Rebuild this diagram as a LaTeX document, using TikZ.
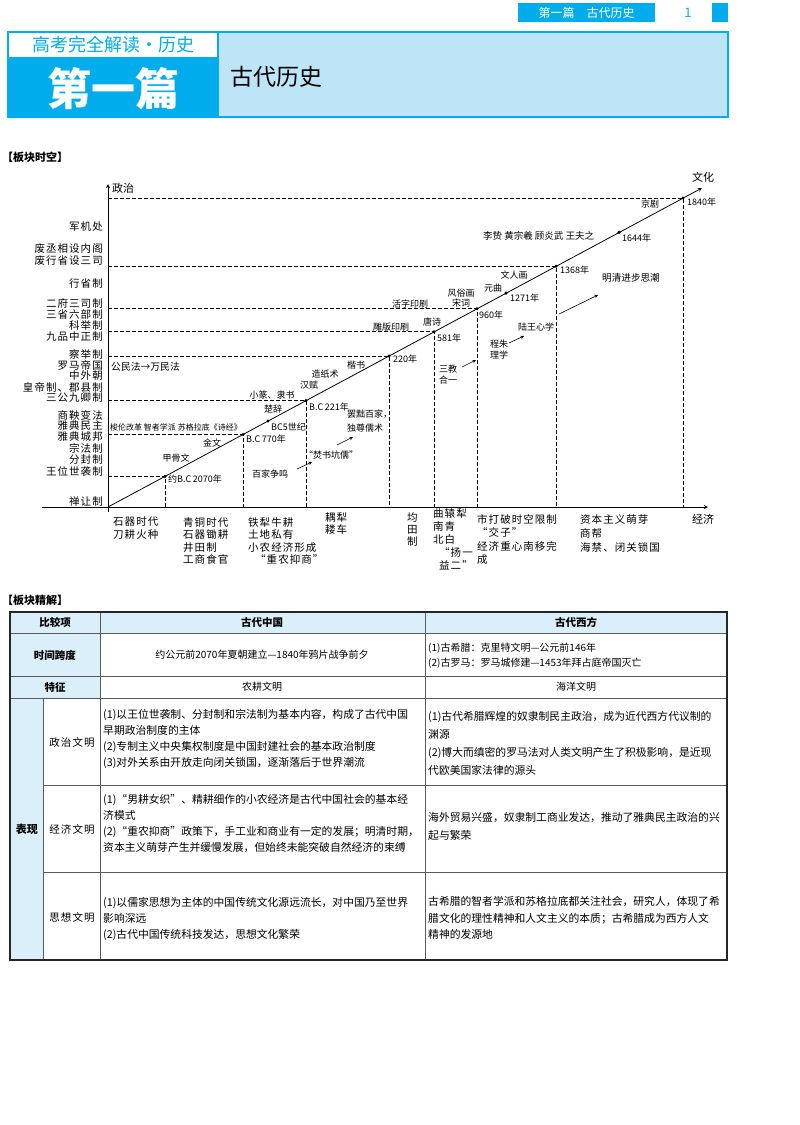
\documentclass[tikz,border=0pt]{standalone}
\usepackage{fontspec}
\setmainfont{Noto Sans CJK SC}
\newfontfamily\spaced[LetterSpace=10]{Noto Sans CJK SC}
\usepackage{xcolor}
\usetikzlibrary{arrows.meta,positioning,calc}
\definecolor{hdrblue}{RGB}{0,172,236}
\definecolor{hdrlight}{RGB}{190,228,248}
\definecolor{tabblue}{RGB}{218,239,250}
\definecolor{rulegray}{RGB}{90,90,90}

\begin{document}
\begin{tikzpicture}[x=1pt,y=-1pt,>=stealth,
  dot/.style={circle,fill=black,inner sep=1.2pt},
  guide/.style={dash pattern=on 4pt off 2pt,line width=0.7pt},
  evt/.style={font=\fontsize{9}{10}\selectfont,inner sep=0pt},
  polit/.style={font=\spaced\fontsize{10.5}{11}\selectfont,inner sep=0pt,anchor=east},
  econ/.style={font=\spaced\fontsize{10.5}{12.5}\selectfont,inner sep=0pt,anchor=north west,align=left},
  cell/.style={font=\fontsize{10.8}{16}\selectfont,inner sep=0pt,anchor=north west,align=left},
  head/.style={font=\bfseries\fontsize{10.5}{12}\selectfont,inner sep=0pt},
  flow/.style={->,line width=0.6pt}]
  \useasboundingbox (0,0) rectangle (800,1125);

  % page head
  \fill[hdrblue] (518,3) rectangle (655,22);
  \node[font=\fontsize{12}{13}\selectfont,text=white,inner sep=0pt] (runhead) at (586.5,12.5) {第一篇\quad 古代历史};
  \node[font=\fontsize{13}{14}\selectfont,text=hdrblue,inner sep=0pt] (pageno) at (688,12.5) {1};
  \fill[hdrblue] (712,3) rectangle (728,22);

  \fill[hdrlight] (218,32) rectangle (728,117);
  \fill[hdrblue] (8,57) rectangle (218,117);
  \draw[hdrblue,line width=1.2pt] (8,32) rectangle (728,117);
  \draw[hdrblue,line width=1.2pt] (218,32) -- (218,117);
  \node[font=\fontsize{18}{19}\selectfont,text=hdrblue,inner sep=0pt] (series) at (113,45) {高考完全解读·历史};
  \node[font=\bfseries\fontsize{44}{46}\selectfont,text=white,inner sep=0pt] (part) at (113,89) {第一篇};
  \node[font=\fontsize{23}{24}\selectfont,anchor=west,inner sep=0pt] (parttitle) at (230,77) {古代历史};

  \node[font=\bfseries\fontsize{11}{12}\selectfont,anchor=west,inner sep=0pt] (sec1) at (2,157) {【板块时空】};

  % axes
  \coordinate (O) at (108,507);
  \coordinate (tip) at (702,188);
  \coordinate (xstart) at (42,507);
  \coordinate (xend) at (708,507);
  \coordinate (ystart) at (108,512);
  \coordinate (yend) at (108,184);
  \draw[->,line width=0.9pt] (xstart) -- (xend);
  \draw[->,line width=0.9pt] (ystart) -- (yend);
  \node[font=\fontsize{11}{12}\selectfont,anchor=west,inner sep=0pt] (zz) at (112,188) {政治};
  \node[font=\fontsize{11}{12}\selectfont,anchor=west,inner sep=0pt] (jjax) at (692,519) {经济};
  \node[font=\fontsize{11}{12}\selectfont,anchor=west,inner sep=0pt] (wh) at (692,177) {文化};

  % dots on the time line
  \foreach \nm/\xx/\yy in {d1/165/476.4, d2/243/434.5, d3/268/421, d4/306/400.6,
      d5/389/356, d6/434/331.8, d7/477/308.7, d8/506/293.1, d9/556/266.2,
      d10/619/232.4, d11/683/198}
    \coordinate (\nm) at (\xx,\yy);
  \foreach \nm in {d1,d2,d4,d5,d6,d7,d9,d11}
    \draw[guide] (O |- \nm) -- (\nm) -- (O -| \nm);
  \draw[->,line width=0.8pt] (O) -- (tip);
  \foreach \nm in {d1,d2,d3,d4,d5,d6,d7,d8,d9,d10,d11}
    \node[dot] (p\nm) at (\nm) {};

  % political labels
  \foreach \yy/\txt [count=\i] in {227/军机处, 248/废丞相设内阁, 261/废行省设三司, 284/行省制,
      303/二府三司制, 314/三省六部制, 325/科举制, 337/九品中正制, 354/察举制, 365/罗马帝国,
      376/中外朝, 387/皇帝制、郡县制, 398/三公九卿制, 415/商鞅变法, 426/雅典民主,
      437/雅典城邦, 448/宗法制, 460/分封制, 471/王位世袭制, 502/禅让制}
    \node[polit] (pl\i) at (103,\yy) {\txt};

  % economic labels
  \node[econ] (e1) at (113,517) {石器时代\\刀耕火种};
  \node[econ] (e2) at (183,517) {青铜时代\\石器锄耕\\井田制\\工商食官};
  \node[econ] (e3) at (248,517) {铁犁牛耕\\土地私有\\小农经济形成\\\hspace{7pt}“重农抑商”};
  \node[econ] (e4) at (325,512) {耦犁\\耧车};
  \node[econ,font=\spaced\fontsize{10.5}{12}\selectfont] (e5) at (407,512) {均\\田\\制};
  \node[econ,font=\spaced\fontsize{10.5}{13}\selectfont] (e6) at (433,508) {曲辕犁\\南青\\北白\\\hspace{6pt}“扬一\\\hspace{6pt}益二”};
  \node[econ,font=\spaced\fontsize{10.5}{13.5}\selectfont] (e7) at (477,514) {市打破时空限制\\“交子”\\经济重心南移完\\成};
  \node[econ,font=\spaced\fontsize{10.5}{14}\selectfont] (e8) at (580,514) {资本主义萌芽\\商帮\\海禁、闭关锁国};

  % cultural labels
  \node[evt,font=\fontsize{9.8}{11}\selectfont,anchor=west] (gmf) at (111,367) {公民法→万民法};
  \node[evt,font=\fontsize{8}{9}\selectfont,anchor=west] (slgg) at (110,427) {梭伦改革 智者学派 苏格拉底《诗经》};
  \node[evt] (jgw) at (176,458) {甲骨文};
  \node[evt] (jw) at (212,443) {金文};
  \node[evt,anchor=west] (t2070) at (168,479) {约B.C\,2070年};
  \node[evt,anchor=west] (t770) at (246,439) {B.C\,770年};
  \node[evt,anchor=west] (t5c) at (271,427) {BC5世纪};
  \node[evt] (cc) at (273,409) {楚辞};
  \node[evt] (xz) at (272,395) {小篆、隶书};
  \node[evt] (hf) at (309,385) {汉赋};
  \node[evt,anchor=west] (t221) at (309,407) {B.C\,221年};
  \node[evt] (zzs) at (325,374) {造纸术};
  \node[evt] (ks) at (356,365) {楷书};
  \node[evt,anchor=west] (t220) at (393,359) {220年};
  \node[evt,anchor=west,align=left,font=\fontsize{9}{14}\selectfont] (bc) at (347,421) {罢黜百家，\\独尊儒术};
  \node[evt] (fs) at (331,455) {“焚书坑儒”};
  \node[evt] (bj) at (270,474) {百家争鸣};
  \node[evt] (db) at (391,327) {雕版印刷};
  \node[evt] (ts) at (432,322) {唐诗};
  \node[evt,anchor=west] (t581) at (437,338) {581年};
  \node[evt] (hz) at (410,304) {活字印刷};
  \node[evt,align=center,font=\fontsize{9}{10.5}\selectfont] (fsh) at (461,298) {风俗画\\宋词};
  \node[evt,anchor=west] (t960) at (479,315) {960年};
  \node[evt] (yq) at (493,288) {元曲};
  \node[evt,anchor=west] (t1271) at (510,298) {1271年};
  \node[evt] (wrh) at (514,275) {文人画};
  \node[evt,anchor=west] (t1368) at (560,270) {1368年};
  \node[evt,anchor=west,font=\fontsize{9.5}{10}\selectfont] (lz) at (483,236) {李贽 黄宗羲 顾炎武 王夫之};
  \node[evt,anchor=west] (t1644) at (622,238) {1644年};
  \node[evt] (jju) at (650,204) {京剧};
  \node[evt,anchor=west] (t1840) at (687,202) {1840年};
  \node[evt,font=\fontsize{9.6}{10}\selectfont] (mq) at (631,278) {明清进步思潮};
  \node[evt] (lw) at (536,327) {陆王心学};
  \node[evt,align=center,font=\fontsize{9}{11}\selectfont] (cz) at (499,350) {程朱\\理学};
  \node[evt,align=center,font=\fontsize{9}{11}\selectfont] (sj) at (448,375) {三教\\合一};

  \coordinate (f1a) at (297,469); \coordinate (f1b) at (312,462);
  \coordinate (f2a) at (337,445); \coordinate (f2b) at (353,437);
  \coordinate (f3a) at (462,367); \coordinate (f3b) at (476,360);
  \coordinate (f4a) at (509,343); \coordinate (f4b) at (524,336);
  \coordinate (f5a) at (559,314); \coordinate (f5b) at (598,295);
  \foreach \k in {1,...,5}
    \draw[flow] (f\k a) -- (f\k b);

  % table
  \node[font=\bfseries\fontsize{11}{12}\selectfont,anchor=west,inner sep=0pt] (sec2) at (2,600) {【板块精解】};
  \fill[tabblue] (10,612) rectangle (727,633);
  \fill[tabblue] (10,633) rectangle (100,698);
  \fill[tabblue] (10,698) rectangle (43,960);
  \draw[rulegray,line width=0.6pt] (10,633) -- (727,633) (10,676) -- (727,676)
    (10,698) -- (727,698) (43,785) -- (727,785) (43,872) -- (727,872)
    (100,612) -- (100,960) (425,612) -- (425,960) (43,698) -- (43,960);
  \draw[black!85,line width=1.1pt] (10,612) rectangle (727,960);

  \node[head] (hcmp) at (55,622.5) {比较项};
  \node[head] (hcn) at (262,622.5) {古代中国};
  \node[head] (hwest) at (576,622.5) {古代西方};
  \node[head] (hspan) at (55,655) {时间跨度};
  \node[head] (hfeat) at (55,687) {特征};
  \node[head,font=\bfseries\fontsize{11}{12}\selectfont] (hshow) at (27,829) {表现};
  \node[inner sep=0pt,font=\spaced\fontsize{10.5}{12}\selectfont] (spz) at (72,742) {政治文明};
  \node[inner sep=0pt,font=\spaced\fontsize{10.5}{12}\selectfont] (sjj) at (72,829) {经济文明};
  \node[inner sep=0pt,font=\spaced\fontsize{10.5}{12}\selectfont] (ssx) at (72,917) {思想文明};

  \node[inner sep=0pt,font=\fontsize{10}{12}\selectfont] (spancn) at (262,655) {约公元前2070年夏朝建立—1840年鸦片战争前夕};
  \node[inner sep=0pt,font=\fontsize{10}{15}\selectfont,anchor=west,align=left] (spanw) at (428,655.5) {(1)古希腊：克里特文明—公元前146年\\(2)古罗马：罗马城修建—1453年拜占庭帝国灭亡};
  \node[inner sep=0pt,font=\fontsize{10}{12}\selectfont] (featcn) at (262,687) {农耕文明};
  \node[inner sep=0pt,font=\fontsize{10}{12}\selectfont] (featw) at (576,687) {海洋文明};

  \node[cell] (cpz) at (103,709.5) {(1)以王位世袭制、分封制和宗法制为基本内容，构成了古代中国\\早期政治制度的主体\\(2)专制主义中央集权制度是中国封建社会的基本政治制度\\(3)对外关系由开放走向闭关锁国，逐渐落后于世界潮流};
  \node[cell] (cjj) at (103,794.5) {(1)“男耕女织”、精耕细作的小农经济是古代中国社会的基本经\\济模式\\(2)“重农抑商”政策下，手工业和商业有一定的发展；明清时期，\\资本主义萌芽产生并缓慢发展，但始终未能突破自然经济的束缚};
  \node[cell] (csx) at (103,897.5) {(1)以儒家思想为主体的中国传统文化源远流长，对中国乃至世界\\影响深远\\(2)古代中国传统科技发达，思想文化繁荣};
  \node[cell,font=\fontsize{10.8}{18}\selectfont] (wpz) at (428,711.5) {(1)古代希腊辉煌的奴隶制民主政治，成为近代西方代议制的\\渊源\\(2)博大而缜密的罗马法对人类文明产生了积极影响，是近现\\代欧美国家法律的源头};
  \node[cell,font=\fontsize{10.8}{18}\selectfont] (wjj) at (428,812.5) {海外贸易兴盛，奴隶制工商业发达，推动了雅典民主政治的兴\\起与繁荣};
  \node[cell,font=\fontsize{10.8}{16.5}\selectfont] (wsx) at (428,896.5) {古希腊的智者学派和苏格拉底都关注社会，研究人，体现了希\\腊文化的理性精神和人文主义的本质；古希腊成为西方人文\\精神的发源地};
\end{tikzpicture}
\end{document}
